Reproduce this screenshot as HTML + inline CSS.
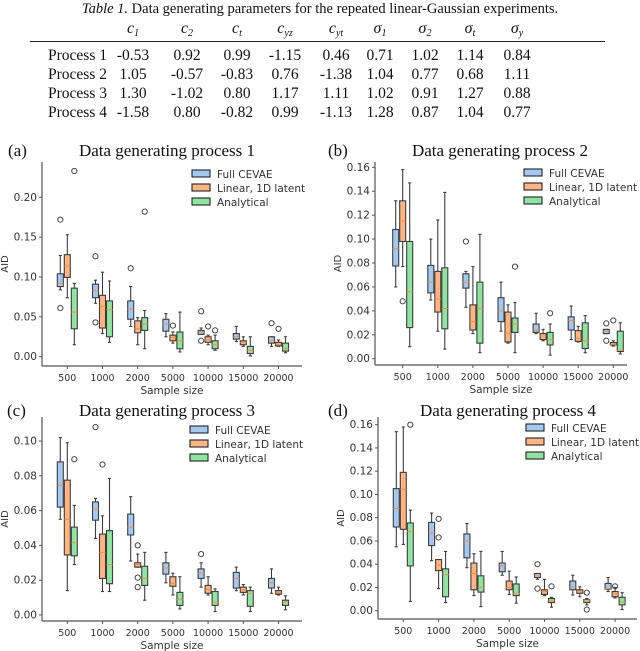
<!DOCTYPE html>
<html><head><meta charset="utf-8">
<style>
body{margin:0;background:#fff;width:640px;height:651px;overflow:hidden;font-family:"Liberation Serif",serif;}
#cap{position:absolute;left:0;top:1px;width:640px;text-align:center;font-size:14.5px;color:#111;}
svg{position:absolute;left:0;top:0}
</style></head><body>
<div id="cap"><i>Table 1.</i> Data generating parameters for the repeated linear-Gaussian experiments.</div>
<svg id="chart" width="640" height="651"></svg>
<script>
const NS="http://www.w3.org/2000/svg";
const svg=document.getElementById('chart');
const colHeads=["c<tspan font-size='10' dy='3'>1</tspan>","c<tspan font-size='10' dy='3'>2</tspan>","c<tspan font-size='10' dy='3'>t</tspan>","c<tspan font-size='10' dy='3'>yz</tspan>","c<tspan font-size='10' dy='3'>yt</tspan>","σ<tspan font-size='10' dy='3'>1</tspan>","σ<tspan font-size='10' dy='3'>2</tspan>","σ<tspan font-size='10' dy='3'>t</tspan>","σ<tspan font-size='10' dy='3'>y</tspan>"];
const rowNames=["Process 1","Process 2","Process 3","Process 4"];
const p1Params=["-0.53","0.92","0.99","-1.15","0.46","0.71","1.02","1.14","0.84"];
const p2Params=["1.05","-0.57","-0.83","0.76","-1.38","1.04","0.77","0.68","1.11"];
const p3Params=["1.30","-1.02","0.80","1.17","1.11","1.02","0.91","1.27","0.88"];
const p4Params=["-1.58","0.80","-0.82","0.99","-1.13","1.28","0.87","1.04","0.77"];
const categories=["500","1000","2000","5000","10000","15000","20000"];
const seriesNames=["Full CEVAE","Linear, 1D latent","Analytical"];
const a_full=[[0.084,0.088,0.092,0.104,0.127],[0.067,0.074,0.083,0.091,0.096],[0.038,0.047,0.060,0.070,0.088],[0.025,0.032,0.041,0.047,0.054],[0.028,0.028,0.031,0.033,0.036],[0.019,0.022,0.025,0.029,0.038],[0.013,0.017,0.020,0.025,0.025]];
const a_linear=[[0.074,0.0995,0.114,0.128,0.153],[0.029,0.036,0.063,0.077,0.106],[0.015,0.030,0.035,0.045,0.049],[0.017,0.020,0.024,0.027,0.031],[0.015,0.018,0.021,0.025,0.027],[0.013,0.015,0.018,0.020,0.025],[0.013,0.0135,0.0155,0.018,0.021]];
const a_analytical=[[0.015,0.035,0.056,0.086,0.092],[0.018,0.025,0.059,0.070,0.095],[0.010,0.033,0.041,0.049,0.058],[0.006,0.010,0.020,0.031,0.056],[0.008,0.010,0.015,0.020,0.027],[0.001,0.004,0.008,0.013,0.025],[0.005,0.007,0.010,0.017,0.025]];
const a_full_out=[[0.172,0.061],[0.126,0.043],[0.111],[],[0.057,0.020],[],[0.042]];
const a_linear_out=[[],[],[],[0.039],[0.038],[],[0.035]];
const a_analytical_out=[[0.233],[],[0.182],[],[0.033],[],[]];
const b_full=[[0.060,0.0775,0.092,0.108,0.132],[0.049,0.055,0.064,0.078,0.100],[0.043,0.059,0.064,0.071,0.073],[0.023,0.031,0.040,0.051,0.064],[0.021,0.022,0.024,0.029,0.038],[0.016,0.024,0.032,0.035,0.044],[0.021,0.021,0.023,0.0245,0.0245]];
const b_linear=[[0.077,0.098,0.115,0.132,0.158],[0.023,0.039,0.050,0.073,0.116],[0.021,0.024,0.031,0.045,0.077],[0.013,0.014,0.021,0.039,0.045],[0.015,0.016,0.019,0.021,0.0245],[0.014,0.0145,0.017,0.0235,0.027],[0.0105,0.0115,0.012,0.0135,0.015]];
const b_analytical=[[0.010,0.026,0.056,0.098,0.147],[0.008,0.025,0.042,0.076,0.139],[0.005,0.013,0.042,0.064,0.104],[0.005,0.022,0.029,0.034,0.047],[0.003,0.0115,0.0155,0.022,0.029],[0.005,0.0085,0.015,0.030,0.036],[0.004,0.006,0.007,0.023,0.030]];
const b_full_out=[[],[],[0.098],[],[],[],[0.0295,0.015]];
const b_linear_out=[[0.048],[],[],[],[],[],[0.032]];
const b_analytical_out=[[],[],[],[0.077],[0.038],[],[]];
const c_full=[[0.055,0.062,0.0745,0.088,0.102],[0.044,0.0545,0.061,0.065,0.067],[0.031,0.046,0.0505,0.058,0.068],[0.0185,0.0235,0.027,0.030,0.036],[0.016,0.021,0.024,0.0265,0.030],[0.014,0.0155,0.021,0.0245,0.0275],[0.0125,0.0155,0.0185,0.021,0.0265]];
const c_linear=[[0.014,0.0345,0.055,0.0775,0.099],[0.0135,0.021,0.036,0.0465,0.057],[0.0275,0.0275,0.029,0.030,0.035],[0.0115,0.0165,0.018,0.022,0.024],[0.0115,0.0125,0.0145,0.017,0.022],[0.0115,0.013,0.0145,0.016,0.0175],[0.0115,0.012,0.013,0.014,0.016]];
const c_analytical=[[0.029,0.034,0.0415,0.0505,0.063],[0.0135,0.018,0.029,0.0485,0.0785],[0.0085,0.017,0.021,0.028,0.036],[0.0035,0.0055,0.009,0.013,0.022],[0.002,0.0055,0.007,0.0135,0.015],[0.002,0.005,0.0125,0.014,0.016],[0.003,0.0055,0.0075,0.0085,0.011]];
const c_full_out=[[],[0.108],[],[],[0.035],[],[]];
const c_linear_out=[[],[0.0865],[0.040,0.0215,0.016],[],[],[],[]];
const c_analytical_out=[[0.0895],[],[],[],[],[],[]];
const d_full=[[0.055,0.072,0.088,0.105,0.154],[0.043,0.056,0.067,0.076,0.084],[0.037,0.0455,0.060,0.066,0.075],[0.0305,0.0335,0.0385,0.041,0.051],[0.027,0.0285,0.030,0.032,0.032],[0.0135,0.018,0.0205,0.0255,0.0305],[0.0165,0.0185,0.019,0.0235,0.0285]];
const d_linear=[[0.057,0.070,0.1045,0.119,0.158],[0.019,0.0345,0.039,0.044,0.044],[0.013,0.018,0.032,0.041,0.049],[0.014,0.018,0.020,0.0255,0.034],[0.013,0.014,0.0165,0.018,0.027],[0.012,0.015,0.017,0.018,0.0205],[0.011,0.012,0.0145,0.0165,0.020]];
const d_analytical=[[0.008,0.0385,0.068,0.0755,0.0865],[0.007,0.012,0.031,0.036,0.051],[0.0035,0.016,0.020,0.030,0.051],[0.0065,0.013,0.015,0.023,0.029],[0.003,0.007,0.0085,0.0105,0.0115],[0.005,0.007,0.009,0.0095,0.0105],[0.001,0.005,0.0075,0.0115,0.0155]];
const d_full_out=[[],[],[],[],[0.040,0.019],[],[]];
const d_linear_out=[[],[0.079,0.063],[],[],[],[],[0.021]];
const d_analytical_out=[[0.160],[],[],[],[0.021],[0.0155,0.001],[]];
const yTicksA=[0,0.05,0.10,0.15,0.20];
const yTicksB=[0,0.02,0.04,0.06,0.08,0.10,0.12,0.14,0.16];
const yTicksC=[0,0.02,0.04,0.06,0.08,0.10];
const yTicksD=[0,0.02,0.04,0.06,0.08,0.10,0.12,0.14,0.16];

function el(tag,attrs,parent){const e=document.createElementNS(NS,tag);for(const k in attrs)e.setAttribute(k,attrs[k]);(parent||svg).appendChild(e);return e;}

const colX=[133,187,237,285,336,380,425,470,517];
const tbl=el('g',{});


colHeads.forEach((h,i)=>{const t=el('text',{x:colX[i],y:33,'text-anchor':'middle','font-family':'"Liberation Serif",serif','font-style':'italic','font-size':16,fill:'#111'},tbl);t.innerHTML=h;

});
el('line',{x1:30,x2:605,y1:41.5,y2:41.5,stroke:'#222','stroke-width':1},tbl);
[p1Params,p2Params,p3Params,p4Params].forEach((row,r)=>{
  const y=60+r*19;
  const n=el('text',{x:48,y:y,'font-family':'"Liberation Serif",serif','font-size':15.5,fill:'#111'},tbl);n.textContent=rowNames[r];
  
  
  row.forEach((v,i)=>{const t=el('text',{x:colX[i],y:y,'text-anchor':'middle','font-family':'"Liberation Serif",serif','font-size':15.5,fill:'#111'},tbl);t.textContent=v;
  
  });
});

const fills=['#a1c9f4','#ffb482','#8de5a1'];
function panel(cfg){
  const g=el('g',{});
  
  
  const yS=v=>cfg.y0-(v/cfg.yTop)*(cfg.y0-cfg.yTopPx);
  const xS=i=>cfg.x0+i*cfg.dx;
  const F='"DejaVu Sans",sans-serif';
  el('line',{x1:cfg.left,x2:cfg.left,y1:cfg.top,y2:cfg.bottom,stroke:'#555','stroke-width':1.2},g);
  el('line',{x1:cfg.left,x2:cfg.right,y1:cfg.bottom,y2:cfg.bottom,stroke:'#555','stroke-width':1.2},g);
  cfg.yTicks.forEach(v=>{const y=yS(v);
    el('line',{x1:cfg.left-3,x2:cfg.left,y1:y,y2:y,stroke:'#555'},g);
    const t=el('text',{x:cfg.left-5,y:y+3.5,'text-anchor':'end','font-family':F,'font-size':10.5,fill:'#333'},g);t.textContent=v.toFixed(2);
    
    });
  categories.forEach((c,i)=>{const x=xS(i);
    el('line',{x1:x,x2:x,y1:cfg.bottom,y2:cfg.bottom+3,stroke:'#555'},g);
    const t=el('text',{x:x,y:cfg.bottom+15,'text-anchor':'middle','font-family':F,'font-size':9.5,fill:'#333'},g);t.textContent=c;
    
    });
  const yl=el('text',{x:0,y:0,transform:`translate(${cfg.left-34},${(cfg.top+cfg.bottom)/2}) rotate(-90)`,'text-anchor':'middle','font-family':F,'font-size':10,fill:'#333'},g);yl.textContent='AID';
  
  
  const xl=el('text',{x:(cfg.left+cfg.right)/2,y:cfg.bottom+28,'text-anchor':'middle','font-family':F,'font-size':10.5,fill:'#333'},g);xl.textContent='Sample size';
  
  
  const ti=el('text',{x:cfg.tx,y:cfg.ty,'text-anchor':'middle','font-family':'"Liberation Serif",serif','font-size':17,fill:'#111'},g);ti.textContent=cfg.title;
  
  
  const lb=el('text',{x:cfg.lx,y:cfg.ty,'font-family':'"Liberation Serif",serif','font-size':17,fill:'#111'},g);lb.textContent=cfg.label;
  
  
  cfg.series.forEach((s,si)=>{
    s.forEach((st,i)=>{
      const cx=xS(i)+(si-1)*7, w=6;
      const b=el('g',{},g);
      
      
      const [lo,q1,md,q3,hi]=st.map(yS);
      el('line',{x1:cx,x2:cx,y1:q3,y2:hi,stroke:'#3d3d3d','stroke-width':1.1},b);
      el('line',{x1:cx,x2:cx,y1:q1,y2:lo,stroke:'#3d3d3d','stroke-width':1.1},b);
      el('line',{x1:cx-1.6,x2:cx+1.6,y1:hi,y2:hi,stroke:'#3d3d3d','stroke-width':1.1},b);
      el('line',{x1:cx-1.6,x2:cx+1.6,y1:lo,y2:lo,stroke:'#3d3d3d','stroke-width':1.1},b);
      el('rect',{x:cx-w/2,y:q3,width:w,height:Math.max(q1-q3,0.5),fill:fills[si],stroke:'#3d3d3d','stroke-width':1.1},b);
      el('line',{x1:cx-w/2,x2:cx+w/2,y1:md,y2:md,stroke:'#ff8c2e','stroke-width':1},b);
      cfg.outs[si][i].forEach(o=>{el('circle',{cx:cx,cy:yS(o),r:2.6,fill:'none',stroke:'#444','stroke-width':1},b);});
    });
  });
  seriesNames.forEach((n,i)=>{const y=cfg.legY+i*14;
    const lg=el('g',{},g);
    
    
    el('rect',{x:cfg.legX,y:y-4,width:18,height:7,fill:fills[i],stroke:'#222','stroke-width':1.1},lg);
    const t=el('text',{x:cfg.legX+25,y:y+4,'font-family':F,'font-size':10.5,fill:'#333'},lg);t.textContent=n;});
}
panel({id:'a',title:'Data generating process 1',label:'(a)',lx:8,tx:167,ty:156,left:42,right:302,top:162,bottom:366,y0:356.7,yTop:0.20,yTopPx:197.3,x0:67.3,dx:35.2,yTicks:yTicksA,legX:192,legY:174,series:[a_full,a_linear,a_analytical],outs:[a_full_out,a_linear_out,a_analytical_out]});
panel({id:'b',title:'Data generating process 2',label:'(b)',lx:328,tx:500,ty:156,left:375,right:627,top:162,bottom:365,y0:358.7,yTop:0.16,yTopPx:167.3,x0:402.7,dx:35.1,yTicks:yTicksB,legX:524,legY:173,series:[b_full,b_linear,b_analytical],outs:[b_full_out,b_linear_out,b_analytical_out]});
panel({id:'c',title:'Data generating process 3',label:'(c)',lx:7,tx:167,ty:416,left:42,right:302,top:417,bottom:621,y0:615,yTop:0.10,yTopPx:441,x0:67.3,dx:35.2,yTicks:yTicksC,legX:190,legY:430,series:[c_full,c_linear,c_analytical],outs:[c_full_out,c_linear_out,c_analytical_out]});
panel({id:'d',title:'Data generating process 4',label:'(d)',lx:328,tx:508,ty:416,left:378,right:637,top:417,bottom:619,y0:610.7,yTop:0.16,yTopPx:424.7,x0:403.3,dx:35.3,yTicks:yTicksD,legX:526,legY:428,series:[d_full,d_linear,d_analytical],outs:[d_full_out,d_linear_out,d_analytical_out]});
</script>
</body></html>
